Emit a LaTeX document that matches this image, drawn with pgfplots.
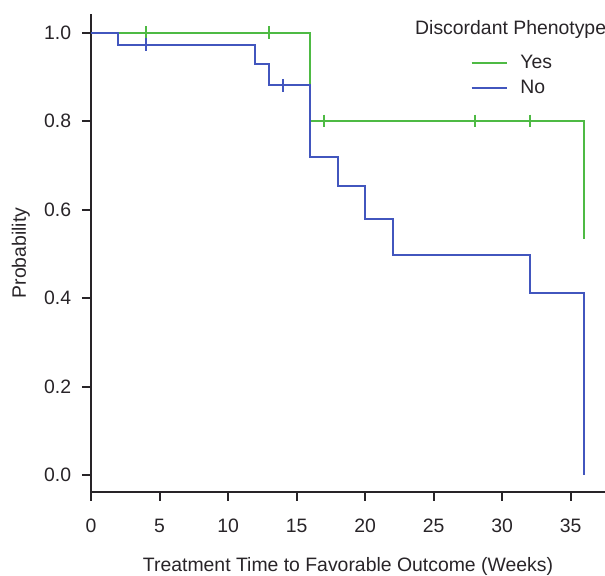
\documentclass[border=0pt]{standalone}
\usepackage{pgfplots}
\usepackage{fontspec}
\setmainfont{Liberation Sans}
\pgfplotsset{compat=1.18}
\definecolor{kmGreen}{RGB}{78,186,68}
\definecolor{kmBlue}{RGB}{66,86,190}
\definecolor{kmInk}{RGB}{40,36,40}

\begin{document}
\begin{tikzpicture}
  \fontsize{9.7}{12}\selectfont
  \path[use as bounding box] (-45.5pt,-42pt) rectangle (257pt,246pt);
  \begin{axis}[
      scale only axis,
      width=257pt, height=239pt,
      xmin=0, xmax=37.5,
      ymin=-0.038, ymax=1.042,
      axis lines*=left,
      axis line style={line width=1pt, kmInk},
      tick style={line width=1pt, kmInk},
      tick align=outside,
      major tick length=4.5pt,
      xtick={0,5,...,35},
      ytick={0,0.2,...,1.0},
      yticklabel style={/pgf/number format/fixed, /pgf/number format/fixed zerofill,
        /pgf/number format/precision=1, xshift=-2pt},
      /pgf/number format/assume math mode=true,
      ticklabel style={font=\fontsize{9.7}{12}\selectfont, text=kmInk},
      xticklabel style={yshift=-5.5pt},
      xlabel={Treatment Time to Favorable Outcome (Weeks)},
      ylabel={Probability},
      xlabel style={yshift=-6pt},
      ylabel style={yshift=0.5pt},
      label style={font=\fontsize{9.7}{12}\selectfont, text=kmInk},
      clip=false,
      legend style={at={(rel axis cs:0.726,0.932)}, anchor=north west, draw=none, fill=none,
        font=\fontsize{9.7}{12}\selectfont, text=kmInk, row sep=0.5pt,
        /tikz/every odd column/.append style={column sep=4pt}},
      legend cell align=left,
      legend image code/.code={\draw[#1] (0cm,0cm) -- (0.63cm,0cm);},
    ]
    \addplot[const plot, kmGreen, line width=1pt] coordinates {
      (0,1) (16,0.8) (36,0.533)
    };
    \addlegendentry{Yes}
    \addplot[const plot, kmBlue, line width=1pt] coordinates {
      (0,1) (2,0.973) (12,0.930) (13,0.881) (16,0.718) (18,0.653)
      (20,0.579) (22,0.497) (32,0.412) (36,0)
    };
    \addlegendentry{No}
    % censor marks
    \addplot[only marks, mark=|, mark size=3.2pt, kmGreen, mark options={line width=0.9pt}, forget plot]
      coordinates {(4,1) (13,1) (17,0.8) (28,0.8) (32,0.8)};
    \addplot[only marks, mark=|, mark size=3.2pt, kmBlue, mark options={line width=0.9pt}, forget plot]
      coordinates {(4,0.973) (14,0.881)};
    \node[anchor=west, text=kmInk, inner sep=0pt] at (rel axis cs:0.63,0.967) {Discordant Phenotype};
  \end{axis}
\end{tikzpicture}
\end{document}
